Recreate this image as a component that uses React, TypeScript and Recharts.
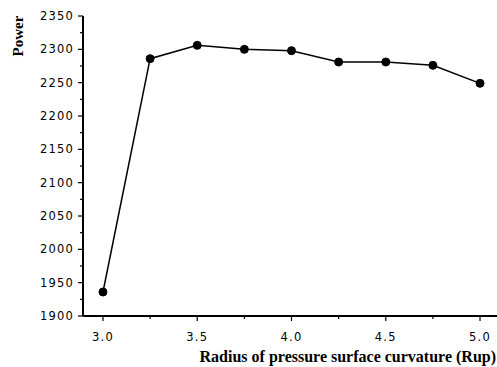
import { LineChart, Line, XAxis, YAxis } from "recharts"

const radius = [3.0, 3.25, 3.5, 3.75, 4.0, 4.25, 4.5, 4.75, 5.0]
const power = [1936, 2286, 2306, 2300, 2298, 2281, 2281, 2276, 2249]

const xTicks = [3.0, 3.25, 3.5, 3.75, 4.0, 4.25, 4.5, 4.75, 5.0]
const yTicks = [1900, 1925, 1950, 1975, 2000, 2025, 2050, 2075, 2100, 2125, 2150, 2175, 2200, 2225, 2250, 2275, 2300, 2325, 2350]

const data = radius.map((r, i) => ({ r, power: power[i] }))

const tickFont = { fontFamily: "DejaVu Sans", fontSize: 11.5, letterSpacing: 1.2, fill: "#000" }
const labelFont = { fontFamily: "Liberation Serif", fontWeight: 700, fill: "#000" }

function XTick(props: any) {
  const { x, y, payload } = props
  const v = payload.value as number
  const major = Math.abs(v * 2 - Math.round(v * 2)) < 1e-6
  return (
    <g>
      <line x1={x} x2={x} y1={y} y2={y + (major ? 5 : 3)} stroke="#000" strokeWidth={1.2} />
      {major && (
        <text x={x} y={y + 25} textAnchor="middle" {...tickFont}>
          {v.toFixed(1)}
        </text>
      )}
    </g>
  )
}

function YTick(props: any) {
  const { x, y, payload } = props
  const v = payload.value as number
  const major = v % 50 === 0
  return (
    <g>
      <line x1={x - (major ? 5 : 3)} x2={x} y1={y} y2={y} stroke="#000" strokeWidth={1.2} />
      {major && (
        <text x={x - 9} y={y + 4} textAnchor="end" {...tickFont}>
          {v}
        </text>
      )}
    </g>
  )
}

function PowerLabel() {
  return (
    <text x={23} y={36} transform="rotate(-90 23 36)" textAnchor="middle" fontSize={15} {...labelFont}>
      Power
    </text>
  )
}

export default function App() {
  return (
    <div style={{ position: "absolute", left: 0, top: 0, background: "#fff" }}>
      <LineChart width={497} height={367} data={data} margin={{ top: 16, right: 0, left: 0, bottom: 0 }}>
        <XAxis
          dataKey="r"
          type="number"
          domain={[2.894, 5.09]}
          ticks={xTicks}
          allowDataOverflow
          tickLine={false}
          tickSize={0}
          tickMargin={0}
          tick={<XTick />}
          interval={0}
          height={51}
          axisLine={{ stroke: "#000", strokeWidth: 2 }}
          label={{
            value: "Radius of pressure surface curvature (Rup)",
            position: "insideBottomRight",
            offset: 5,
            dx: 4,
            style: { ...labelFont, fontSize: 16 },
          }}
        />
        <YAxis
          type="number"
          domain={[1900, 2350]}
          ticks={yTicks}
          interval={0}
          allowDataOverflow
          tickLine={false}
          tickSize={0}
          tickMargin={0}
          tick={<YTick />}
          width={83}
          axisLine={{ stroke: "#000", strokeWidth: 2 }}
          label={<PowerLabel />}
        />
        <Line
          type="linear"
          dataKey="power"
          stroke="#000"
          strokeWidth={1.5}
          dot={{ r: 4, fill: "#000", stroke: "#000", strokeWidth: 1 }}
          isAnimationActive={false}
        />
      </LineChart>
    </div>
  )
}
